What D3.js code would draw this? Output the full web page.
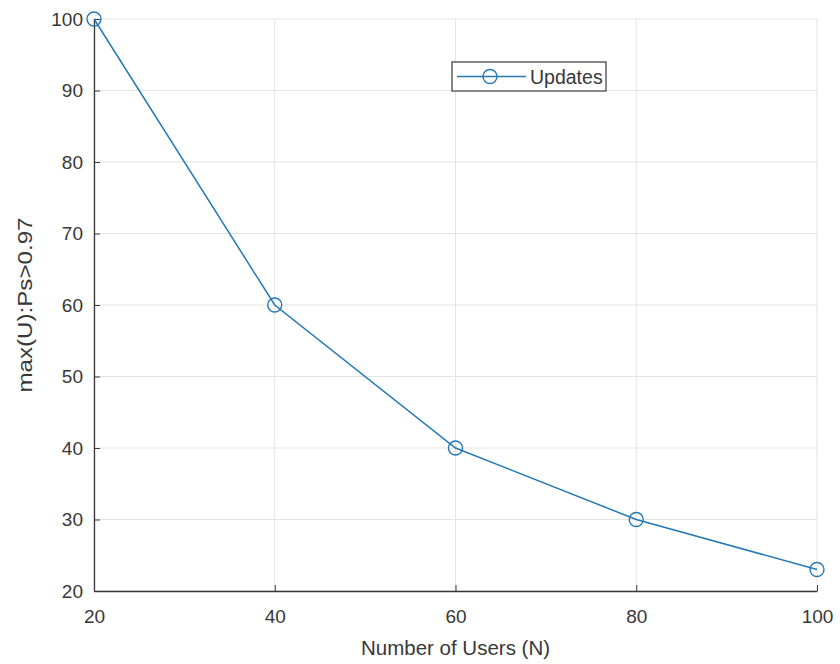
<!DOCTYPE html>
<html><head><meta charset="utf-8">
<script src="https://cdn.jsdelivr.net/npm/d3@7"></script>
<style>body{margin:0;background:#fff}svg{display:block}</style>
</head><body>
<script>
const users = [20, 40, 60, 80, 100];
const updates = [100, 60, 40, 30, 23];
const xTicks = [20, 40, 60, 80, 100];
const yTicks = [20, 30, 40, 50, 60, 70, 80, 90, 100];
const seriesName = "Updates";
const xLabel = "Number of Users (N)";
const yLabel = "max(U):Ps>0.97";

const W = 840, H = 664;
const m = {left: 94, right: 23, top: 19, bottom: 73};
const color = "#2479b5";
const ink = "#383838";
const font = "Liberation Sans, Arial, sans-serif";

const svg = d3.select("body").append("svg").attr("width", W).attr("height", H);
const x = d3.scaleLinear().domain([20, 100]).range([m.left, W - m.right]);
const y = d3.scaleLinear().domain([20, 100]).range([H - m.bottom, m.top]);

// grid
const g = svg.append("g");
g.selectAll(".vg").data(xTicks).enter().append("line")
  .attr("x1", d => x(d)).attr("x2", d => x(d)).attr("y1", y(20)).attr("y2", y(100))
  .attr("stroke", "#e3e3e3").attr("stroke-width", 1);
g.selectAll(".hg").data(yTicks).enter().append("line")
  .attr("x1", x(20)).attr("x2", x(100)).attr("y1", d => y(d)).attr("y2", d => y(d))
  .attr("stroke", "#e3e3e3").attr("stroke-width", 1);

// axes
const xAxis = d3.axisBottom(x).tickValues(xTicks).tickSizeInner(-6).tickSizeOuter(0).tickPadding(14);
const yAxis = d3.axisLeft(y).tickValues(yTicks).tickSizeInner(-6).tickSizeOuter(0).tickPadding(11);
const gx = svg.append("g").attr("transform", `translate(0,${y(20)})`).call(xAxis);
const gy = svg.append("g").attr("transform", `translate(${x(20)},0)`).call(yAxis);
[gx, gy].forEach(a => {
  a.select(".domain").attr("stroke", ink).attr("stroke-width", 1.3);
  a.selectAll(".tick line").attr("stroke", ink);
  a.selectAll(".tick text").attr("fill", ink).attr("font-family", font).attr("font-size", 19);
});
gx.selectAll(".tick text").attr("y", 32).attr("dy", 0);
gy.selectAll(".tick text").attr("x", -11);

// line
const line = d3.line().x((d, i) => x(users[i])).y(d => y(d));
svg.append("path").datum(updates).attr("d", line).attr("fill", "none")
  .attr("stroke", color).attr("stroke-width", 1.5);
svg.selectAll(".pt").data(updates).enter().append("circle")
  .attr("cx", (d, i) => x(users[i])).attr("cy", d => y(d)).attr("r", 7)
  .attr("fill", "none").attr("stroke", color).attr("stroke-width", 1.4);

// labels
svg.append("text").attr("x", (x(20) + x(100)) / 2).attr("y", 655)
  .attr("text-anchor", "middle").attr("font-family", font).attr("font-size", 20.5)
  .attr("fill", ink).text(xLabel);
svg.append("text").attr("transform", `translate(32,${(y(20) + y(100)) / 2}) rotate(-90)`)
  .attr("text-anchor", "middle").attr("font-family", font).attr("font-size", 20)
  .attr("textLength", 175).attr("lengthAdjust", "spacingAndGlyphs")
  .attr("fill", ink).text(yLabel);

// legend
const lg = svg.append("g").attr("transform", "translate(452,62)");
lg.append("rect").attr("width", 154).attr("height", 29).attr("fill", "#fff")
  .attr("stroke", ink).attr("stroke-width", 1.2);
lg.append("line").attr("x1", 5).attr("x2", 74).attr("y1", 14.5).attr("y2", 14.5)
  .attr("stroke", color).attr("stroke-width", 1.5);
lg.append("circle").attr("cx", 38).attr("cy", 14.5).attr("r", 7)
  .attr("fill", "none").attr("stroke", color).attr("stroke-width", 1.4);
lg.append("text").attr("x", 78).attr("y", 21.5).attr("font-family", font).attr("font-size", 19.5)
  .attr("fill", ink).text(seriesName);
</script>
</body></html>
